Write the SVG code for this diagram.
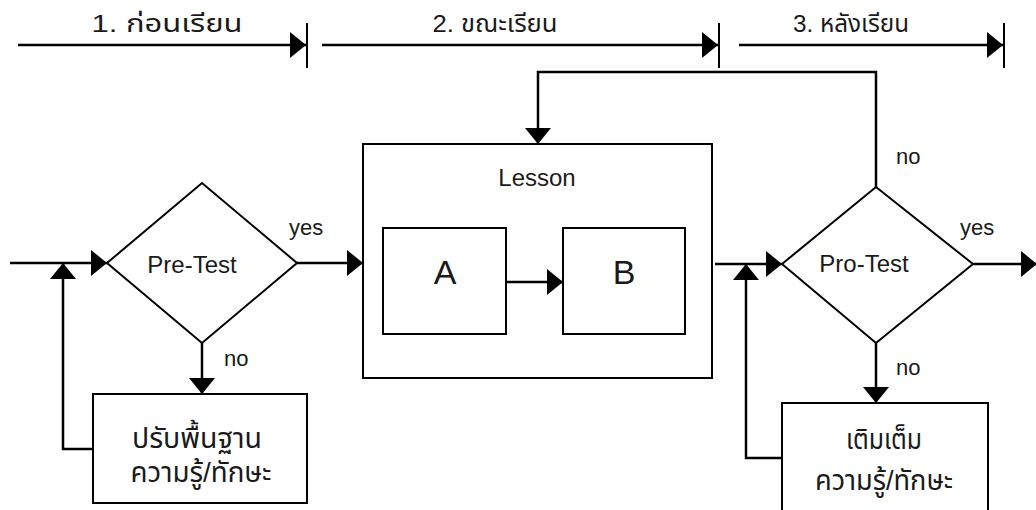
<svg xmlns="http://www.w3.org/2000/svg" width="1036" height="510" viewBox="0 0 1036 510">
<style>
.shape{fill:#fff;stroke:#000;stroke-width:2}
.conn{fill:none;stroke:#000;stroke-width:2.5;stroke-linecap:butt;stroke-linejoin:miter}
.tick{stroke:#000;stroke-width:2}
text{font-family:"Liberation Sans","Noto Sans Thai","Noto Sans","DejaVu Sans",sans-serif;fill:#1a1a1a}
.lbl{font-size:22px}
.th{font-size:28px;text-anchor:middle}
.hd{font-size:24px;text-anchor:middle}
</style>
<defs>
<marker id="arr" viewBox="0 0 16 26" refX="16" refY="13" markerWidth="16" markerHeight="26" markerUnits="userSpaceOnUse" orient="auto">
<polygon points="0,0 16,13 0,26" fill="#000"/>
</marker>
</defs>
<rect width="1036" height="510" fill="#fff"/>
<g id="phases">
<line class="conn" x1="18" y1="45" x2="306" y2="45" marker-end="url(#arr)"/>
<line class="tick" x1="307" y1="23" x2="307" y2="68"/>
<text class="hd" x="167" y="32" textLength="151" lengthAdjust="spacingAndGlyphs">1. ก่อนเรียน</text>
<line class="conn" x1="322" y1="45" x2="718" y2="45" marker-end="url(#arr)"/>
<line class="tick" x1="719" y1="23" x2="719" y2="68"/>
<text class="hd" x="495" y="32" textLength="125" lengthAdjust="spacingAndGlyphs">2. ขณะเรียน</text>
<line class="conn" x1="739" y1="45" x2="1003" y2="45" marker-end="url(#arr)"/>
<line class="tick" x1="1004" y1="23" x2="1004" y2="68"/>
<text class="hd" x="851" y="32" textLength="116" lengthAdjust="spacingAndGlyphs">3. หลังเรียน</text>
</g>
<g id="connectors">
<path class="conn" d="M10,263 H107" marker-end="url(#arr)"/>
<path class="conn" d="M93,449 H63 V263" marker-end="url(#arr)"/>
<path class="conn" d="M202,343 V394" marker-end="url(#arr)"/>
<path class="conn" d="M297,263 H363" marker-end="url(#arr)"/>
<path class="conn" d="M715,264 H782" marker-end="url(#arr)"/>
<path class="conn" d="M782,458 H746 V264" marker-end="url(#arr)"/>
<path class="conn" d="M876,343 V403" marker-end="url(#arr)"/>
<path class="conn" d="M973,264 H1037" marker-end="url(#arr)"/>
<path class="conn" d="M876,187 V72 H538 V144" marker-end="url(#arr)"/>
<path class="conn" d="M506,282 H563" marker-end="url(#arr)"/>
<text class="lbl" x="289" y="235">yes</text>
<text class="lbl" x="224" y="366">no</text>
<text class="lbl" x="960" y="235">yes</text>
<text class="lbl" x="896" y="164">no</text>
<text class="lbl" x="896" y="375">no</text>
</g>
<g id="pretest">
<polygon class="shape" points="107,263 202,183 297,263 202,343"/>
<text x="192" y="273" font-size="24" text-anchor="middle">Pre-Test</text>
</g>
<g id="remedial">
<rect class="shape" x="93" y="394" width="214" height="109"/>
<text class="th" x="197" y="448" textLength="130" lengthAdjust="spacingAndGlyphs">ปรับพื้นฐาน</text>
<text class="th" x="201" y="482" textLength="141" lengthAdjust="spacingAndGlyphs">ความรู้/ทักษะ</text>
</g>
<g id="lesson">
<rect class="shape" x="363" y="144" width="349" height="234"/>
<text x="537" y="186" font-size="24" text-anchor="middle">Lesson</text>
</g>
<g id="a">
<rect class="shape" x="383" y="228" width="123" height="106"/>
<text x="445" y="284" font-size="34" text-anchor="middle">A</text>
</g>
<g id="b">
<rect class="shape" x="563" y="228" width="122" height="106"/>
<text x="624" y="284" font-size="34" text-anchor="middle">B</text>
</g>
<path class="conn" d="M506,282 H563" marker-end="url(#arr)"/>
<g id="protest">
<polygon class="shape" points="782,264 876,187 973,264 876,343"/>
<text x="864" y="272" font-size="24" text-anchor="middle">Pro-Test</text>
</g>
<g id="enrich">
<rect class="shape" x="782" y="403" width="206" height="120"/>
<text class="th" x="884" y="449" textLength="76" lengthAdjust="spacingAndGlyphs">เติมเต็ม</text>
<text class="th" x="884" y="490" textLength="138" lengthAdjust="spacingAndGlyphs">ความรู้/ทักษะ</text>
</g>
</svg>
